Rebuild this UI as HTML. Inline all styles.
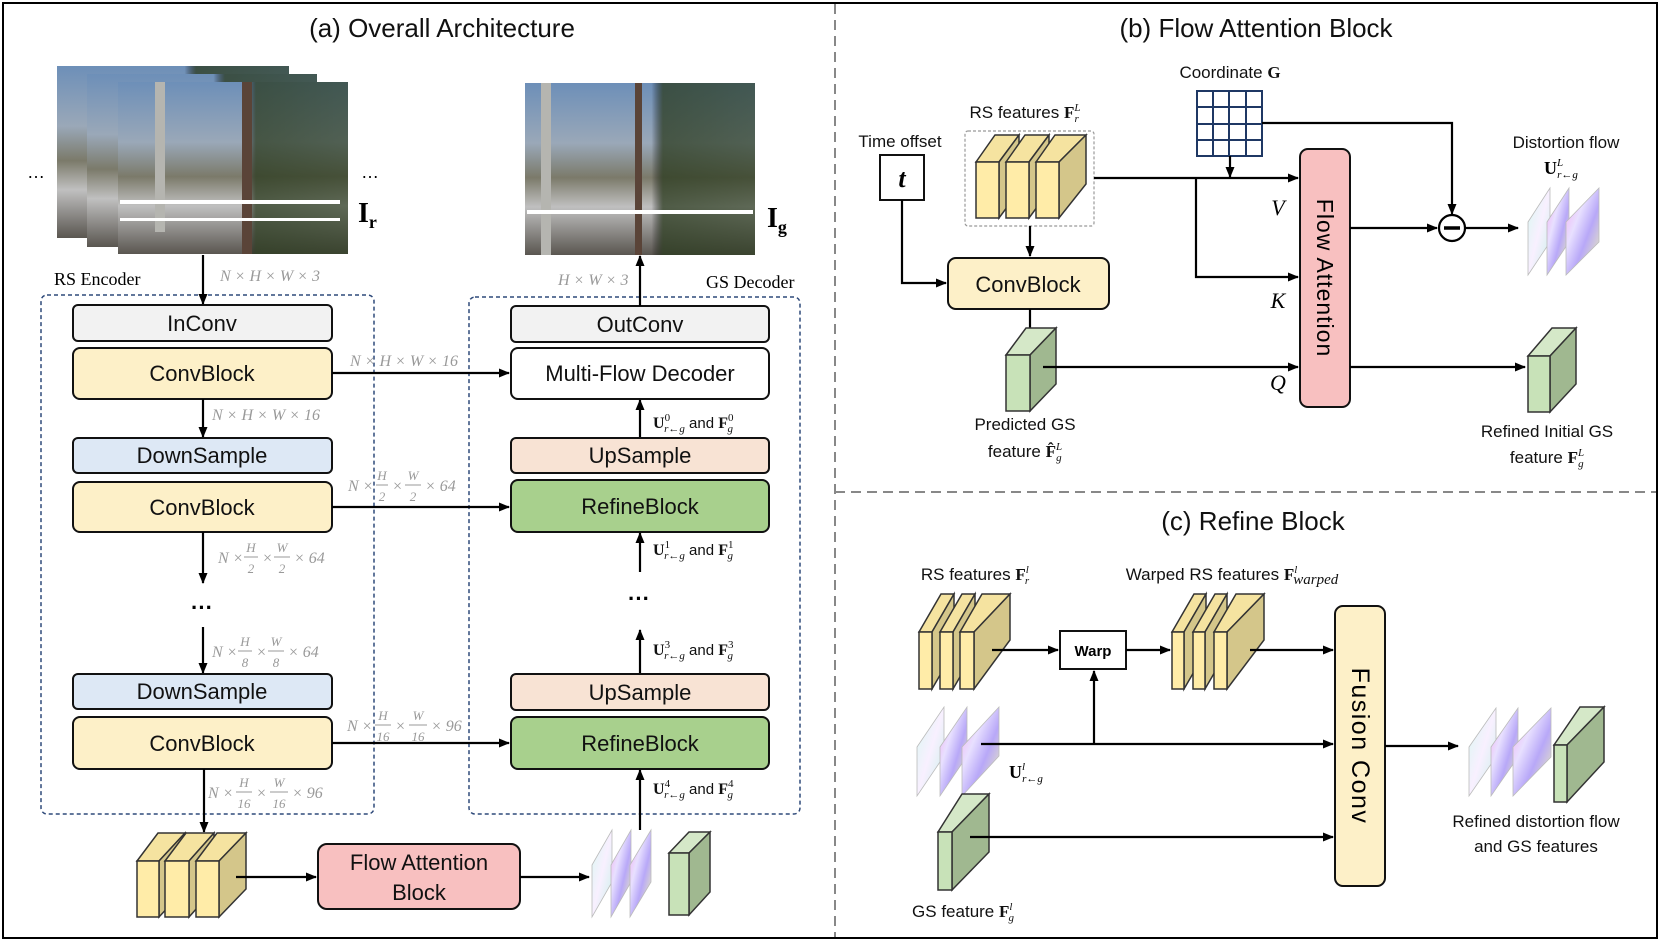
<!DOCTYPE html>
<html><head><meta charset="utf-8"><style>
html,body{margin:0;padding:0;background:#fff;}
svg{display:block;font-family:"Liberation Sans",sans-serif;}
.t{font-size:26px;fill:#111;text-anchor:middle;}
.bx{font-size:22px;fill:#111;text-anchor:middle;}
.lb{font-size:17px;fill:#111;text-anchor:middle;}
.dm{font-family:"Liberation Serif",serif;font-style:italic;font-size:16px;fill:#999;}
.dn{font-family:"Liberation Serif",serif;font-style:italic;font-size:13px;fill:#999;text-anchor:middle;}
.mt{font-family:"Liberation Serif",serif;font-size:16px;fill:#111;}
.ln{stroke:#000;stroke-width:2.2;fill:none;}
</style></head><body>
<svg width="1660" height="941" viewBox="0 0 1660 941" xmlns="http://www.w3.org/2000/svg">
<defs>
<marker id="ar" markerWidth="12" markerHeight="12" refX="10" refY="6" orient="auto" markerUnits="userSpaceOnUse"><path d="M0,1.5 L11,6 L0,10.5 z" fill="#000"/></marker>
<linearGradient id="fl" x1="0" y1="0" x2="1" y2="1"><stop offset="0" stop-color="#f4a8f0"/><stop offset="0.35" stop-color="#e8e0ff"/><stop offset="0.6" stop-color="#b8a8f8"/><stop offset="1" stop-color="#f4f8b0"/></linearGradient>
<linearGradient id="fl2" x1="0" y1="0" x2="1" y2="1"><stop offset="0" stop-color="#d8f8f0"/><stop offset="0.5" stop-color="#f8f0ff"/><stop offset="1" stop-color="#c8f0e8"/></linearGradient>
<linearGradient id="ph" x1="0" y1="0" x2="0" y2="1"><stop offset="0" stop-color="#6d8fb8"/><stop offset="0.35" stop-color="#9aa8b8"/><stop offset="0.55" stop-color="#7b7a6a"/><stop offset="0.72" stop-color="#c0c0c0"/><stop offset="1" stop-color="#5a5650"/></linearGradient>
<linearGradient id="ph2" x1="0" y1="0" x2="1" y2="0"><stop offset="0" stop-color="#000" stop-opacity="0"/><stop offset="0.55" stop-color="#000" stop-opacity="0"/><stop offset="0.6" stop-color="#2a3a1e" stop-opacity="0.75"/><stop offset="1" stop-color="#2a3a1e" stop-opacity="0.65"/></linearGradient>
</defs>
<rect x="3" y="3" width="1654" height="935" fill="none" stroke="#000" stroke-width="2"/>
<line x1="835" y1="4" x2="835" y2="937" stroke="#888" stroke-width="2" stroke-dasharray="10,6"/>
<line x1="835" y1="492" x2="1656" y2="492" stroke="#888" stroke-width="2" stroke-dasharray="10,6"/>
<text class="t" x="442" y="37">(a) Overall Architecture</text>
<text class="t" x="1256" y="37">(b) Flow Attention Block</text>
<text class="t" x="1253" y="530">(c) Refine Block</text>

<!-- images -->
<g>
<rect x="57" y="66" width="232" height="172" fill="url(#ph)"/><rect x="57" y="66" width="232" height="172" fill="url(#ph2)"/>
<rect x="87" y="74" width="230" height="173" fill="url(#ph)"/><rect x="87" y="74" width="230" height="173" fill="url(#ph2)"/>
<rect x="118" y="82" width="230" height="172" fill="url(#ph)"/><rect x="118" y="82" width="230" height="172" fill="url(#ph2)"/>
<rect x="155" y="82" width="10" height="150" fill="#b5b5b0"/><rect x="242" y="82" width="10" height="172" fill="#5a4438"/>
<rect x="120" y="200" width="220" height="4" fill="#fff"/><rect x="120" y="218" width="220" height="3" fill="#fff"/>
</g>
<text x="36" y="178" font-size="18" text-anchor="middle">…</text>
<text x="370" y="178" font-size="18" text-anchor="middle">…</text>
<text x="358" y="222" font-family="Liberation Serif" font-weight="bold" font-size="28">I<tspan font-size="18" dy="6">r</tspan></text>
<g>
<rect x="525" y="83" width="230" height="172" fill="url(#ph)"/><rect x="525" y="83" width="230" height="172" fill="url(#ph2)"/>
<rect x="541" y="83" width="10" height="172" fill="#b5b5b0"/><rect x="635" y="83" width="7" height="172" fill="#5a4438"/>
<rect x="527" y="210" width="226" height="4" fill="#fff"/>
</g>
<text x="767" y="227" font-family="Liberation Serif" font-weight="bold" font-size="28">I<tspan font-size="18" dy="6">g</tspan></text>

<!-- encoder / decoder frames -->
<rect x="41" y="295" width="333" height="519" rx="6" fill="none" stroke="#2f4a7a" stroke-width="1.5" stroke-dasharray="4,3"/>
<rect x="469" y="297" width="331" height="517" rx="6" fill="none" stroke="#2f4a7a" stroke-width="1.5" stroke-dasharray="4,3"/>
<text x="54" y="285" font-family="Liberation Serif" font-size="18">RS Encoder</text>
<text x="706" y="288" font-family="Liberation Serif" font-size="18">GS Decoder</text>
<text class="dm" x="220" y="281">N × H × W × 3</text>
<text class="dm" x="558" y="285">H × W × 3</text>

<line class="ln" x1="203" y1="255" x2="203" y2="304" marker-end="url(#ar)"/>
<rect x="73" y="305" width="259" height="36" rx="5" fill="#f2f2f2" stroke="#111" stroke-width="2"/><text class="bx" x="202" y="331">InConv</text>
<rect x="73" y="348" width="259" height="51" rx="7" fill="#fdf0c8" stroke="#111" stroke-width="2"/><text class="bx" x="202" y="381">ConvBlock</text>
<line class="ln" x1="203" y1="399" x2="203" y2="437" marker-end="url(#ar)"/>
<text class="dm" x="212" y="420">N × H × W × 16</text>
<rect x="73" y="438" width="259" height="35" rx="5" fill="#dde8f5" stroke="#111" stroke-width="2"/><text class="bx" x="202" y="463">DownSample</text>
<rect x="73" y="482" width="259" height="50" rx="7" fill="#fdf0c8" stroke="#111" stroke-width="2"/><text class="bx" x="202" y="515">ConvBlock</text>
<line class="ln" x1="203" y1="532" x2="203" y2="583" marker-end="url(#ar)"/>
<text x="202" y="615" font-size="22" text-anchor="middle" font-weight="bold">···</text>
<line class="ln" x1="203" y1="627" x2="203" y2="673" marker-end="url(#ar)"/>
<rect x="73" y="674" width="259" height="35" rx="5" fill="#dde8f5" stroke="#111" stroke-width="2"/><text class="bx" x="202" y="699">DownSample</text>
<rect x="73" y="717" width="259" height="52" rx="7" fill="#fdf0c8" stroke="#111" stroke-width="2"/><text class="bx" x="202" y="751">ConvBlock</text>
<line class="ln" x1="204" y1="769" x2="204" y2="832" marker-end="url(#ar)"/>

<!-- dims with fractions -->
<g class="dm">
<text x="218" y="563">N ×</text><text class="dn" x="251" y="552">H</text><line x1="244" y1="557" x2="258" y2="557" stroke="#999"/><text class="dn" x="251" y="573">2</text><text x="262" y="563">×</text><text class="dn" x="282" y="552">W</text><line x1="274" y1="557" x2="290" y2="557" stroke="#999"/><text class="dn" x="282" y="573">2</text><text x="294" y="563">× 64</text>
<text x="212" y="657">N ×</text><text class="dn" x="245" y="646">H</text><line x1="238" y1="651" x2="252" y2="651" stroke="#999"/><text class="dn" x="245" y="667">8</text><text x="256" y="657">×</text><text class="dn" x="276" y="646">W</text><line x1="268" y1="651" x2="284" y2="651" stroke="#999"/><text class="dn" x="276" y="667">8</text><text x="288" y="657">× 64</text>
<text x="208" y="798">N ×</text><text class="dn" x="244" y="787">H</text><line x1="236" y1="792" x2="252" y2="792" stroke="#999"/><text class="dn" x="244" y="808">16</text><text x="256" y="798">×</text><text class="dn" x="279" y="787">W</text><line x1="270" y1="792" x2="288" y2="792" stroke="#999"/><text class="dn" x="279" y="808">16</text><text x="292" y="798">× 96</text>
<text x="350" y="366">N × H × W × 16</text>
<text x="348" y="491">N ×</text><text class="dn" x="382" y="480">H</text><line x1="376" y1="485" x2="388" y2="485" stroke="#999"/><text class="dn" x="382" y="501">2</text><text x="392" y="491">×</text><text class="dn" x="413" y="480">W</text><line x1="405" y1="485" x2="421" y2="485" stroke="#999"/><text class="dn" x="413" y="501">2</text><text x="425" y="491">× 64</text>
<text x="347" y="731">N ×</text><text class="dn" x="383" y="720">H</text><line x1="375" y1="725" x2="391" y2="725" stroke="#999"/><text class="dn" x="383" y="741">16</text><text x="395" y="731">×</text><text class="dn" x="418" y="720">W</text><line x1="409" y1="725" x2="427" y2="725" stroke="#999"/><text class="dn" x="418" y="741">16</text><text x="431" y="731">× 96</text>
</g>

<!-- decoder -->
<rect x="511" y="306" width="258" height="36" rx="5" fill="#f2f2f2" stroke="#111" stroke-width="2"/><text class="bx" x="640" y="332">OutConv</text>
<line class="ln" x1="640" y1="306" x2="640" y2="256" marker-end="url(#ar)"/>
<rect x="511" y="348" width="258" height="51" rx="7" fill="#fff" stroke="#111" stroke-width="2"/><text class="bx" x="640" y="381">Multi-Flow Decoder</text>
<line class="ln" x1="332" y1="373" x2="509" y2="373" marker-end="url(#ar)"/>
<line class="ln" x1="640" y1="438" x2="640" y2="400" marker-end="url(#ar)"/>
<rect x="511" y="438" width="258" height="35" rx="5" fill="#f8e3d4" stroke="#111" stroke-width="2"/><text class="bx" x="640" y="463">UpSample</text>
<rect x="511" y="480" width="258" height="52" rx="7" fill="#a8d08d" stroke="#111" stroke-width="2"/><text class="bx" x="640" y="514">RefineBlock</text>
<line class="ln" x1="332" y1="507" x2="509" y2="507" marker-end="url(#ar)"/>
<line class="ln" x1="640" y1="572" x2="640" y2="533" marker-end="url(#ar)"/>
<text x="639" y="606" font-size="22" text-anchor="middle" font-weight="bold">···</text>
<line class="ln" x1="640" y1="674" x2="640" y2="630" marker-end="url(#ar)"/>
<rect x="511" y="674" width="258" height="36" rx="5" fill="#f8e3d4" stroke="#111" stroke-width="2"/><text class="bx" x="640" y="700">UpSample</text>
<rect x="511" y="717" width="258" height="52" rx="7" fill="#a8d08d" stroke="#111" stroke-width="2"/><text class="bx" x="640" y="751">RefineBlock</text>
<line class="ln" x1="332" y1="743" x2="509" y2="743" marker-end="url(#ar)"/>
<line class="ln" x1="640" y1="830" x2="640" y2="770" marker-end="url(#ar)"/>
<g class="mt">
<text x="653" y="428" font-weight="bold">U<tspan font-size="11" dy="-7" font-weight="normal">0</tspan><tspan font-size="11" dy="11" dx="-6" font-style="italic" font-weight="normal">r←g</tspan><tspan dy="-4" font-size="15" font-family="Liberation Sans" font-weight="normal"> and </tspan>F<tspan font-size="11" dy="-7" font-weight="normal">0</tspan><tspan font-size="11" dy="11" dx="-6" font-style="italic" font-weight="normal">g</tspan></text>
<text x="653" y="555" font-weight="bold">U<tspan font-size="11" dy="-7" font-weight="normal">1</tspan><tspan font-size="11" dy="11" dx="-6" font-style="italic" font-weight="normal">r←g</tspan><tspan dy="-4" font-size="15" font-family="Liberation Sans" font-weight="normal"> and </tspan>F<tspan font-size="11" dy="-7" font-weight="normal">1</tspan><tspan font-size="11" dy="11" dx="-6" font-style="italic" font-weight="normal">g</tspan></text>
<text x="653" y="655" font-weight="bold">U<tspan font-size="11" dy="-7" font-weight="normal">3</tspan><tspan font-size="11" dy="11" dx="-6" font-style="italic" font-weight="normal">r←g</tspan><tspan dy="-4" font-size="15" font-family="Liberation Sans" font-weight="normal"> and </tspan>F<tspan font-size="11" dy="-7" font-weight="normal">3</tspan><tspan font-size="11" dy="11" dx="-6" font-style="italic" font-weight="normal">g</tspan></text>
<text x="653" y="794" font-weight="bold">U<tspan font-size="11" dy="-7" font-weight="normal">4</tspan><tspan font-size="11" dy="11" dx="-6" font-style="italic" font-weight="normal">r←g</tspan><tspan dy="-4" font-size="15" font-family="Liberation Sans" font-weight="normal"> and </tspan>F<tspan font-size="11" dy="-7" font-weight="normal">4</tspan><tspan font-size="11" dy="11" dx="-6" font-style="italic" font-weight="normal">g</tspan></text>
</g>

<!-- bottom row (a) -->
<g stroke="#333" stroke-width="1.5">
<polygon points="137,861 158,833 185,833 159,861" fill="#f5e3a0"/><polygon points="159,861 185,833 185,889 159,917" fill="#d4c68a"/><rect x="137" y="861" width="22" height="56" fill="#ffeca8"/>
<polygon points="165,861 186,833 214,833 189,861" fill="#f5e3a0"/><polygon points="189,861 214,833 214,889 189,917" fill="#d4c68a"/><rect x="165" y="861" width="24" height="56" fill="#ffeca8"/>
<polygon points="196,861 217,833 246,833 219,861" fill="#f5e3a0"/><polygon points="219,861 246,833 246,889 219,917" fill="#d4c68a"/><rect x="196" y="861" width="23" height="56" fill="#ffeca8"/>
</g>
<line class="ln" x1="236" y1="877" x2="316" y2="877" marker-end="url(#ar)"/>
<rect x="318" y="844" width="202" height="65" rx="9" fill="#f8c0c0" stroke="#111" stroke-width="2"/>
<text class="bx" x="419" y="870">Flow Attention</text><text class="bx" x="419" y="900">Block</text>
<line class="ln" x1="520" y1="877" x2="589" y2="877" marker-end="url(#ar)"/>
<g stroke="#bbb" stroke-width="0.8">
<polygon points="592,865 612,830 612,882 592,917" fill="url(#fl2)"/>
<polygon points="611,865 631,830 631,882 611,917" fill="url(#fl)"/>
<polygon points="630,865 651,830 651,882 630,917" fill="url(#fl)"/>
</g>
<g stroke="#333" stroke-width="1.5">
<polygon points="669,853 689,832 710,832 689,853" fill="#d5e8c8"/><polygon points="689,853 710,832 710,892 689,915" fill="#a0b890"/><rect x="669" y="853" width="20" height="62" fill="#c8e2b8"/>
</g>

<!-- panel b -->
<text class="lb" x="1230" y="78">Coordinate <tspan font-family="Liberation Serif" font-weight="bold">G</tspan></text>
<g stroke="#1f3864" stroke-width="2" fill="none">
<rect x="1197" y="91" width="65" height="65"/>
<line x1="1213" y1="91" x2="1213" y2="156"/><line x1="1229" y1="91" x2="1229" y2="156"/><line x1="1246" y1="91" x2="1246" y2="156"/>
<line x1="1197" y1="107" x2="1262" y2="107"/><line x1="1197" y1="124" x2="1262" y2="124"/><line x1="1197" y1="140" x2="1262" y2="140"/>
</g>
<text class="lb" x="1025" y="118">RS features <tspan font-family="Liberation Serif" font-weight="bold">F</tspan><tspan font-size="11" dy="-7" font-style="italic" font-family="Liberation Serif">L</tspan><tspan font-size="11" dy="11" dx="-6" font-style="italic" font-family="Liberation Serif">r</tspan></text>
<text class="lb" x="900" y="147">Time offset</text>
<rect x="880" y="155" width="44" height="45" fill="#fff" stroke="#111" stroke-width="2"/>
<text x="902" y="187" font-family="Liberation Serif" font-style="italic" font-weight="bold" font-size="26" text-anchor="middle">t</text>
<rect x="965" y="131" width="129" height="95" rx="3" fill="none" stroke="#999" stroke-width="1.2" stroke-dasharray="3,2"/>
<g stroke="#333" stroke-width="1.5">
<polygon points="976,162 995,135 1019,135 999,162" fill="#f5e3a0"/><polygon points="999,162 1019,135 1019,191 999,218" fill="#d4c68a"/><rect x="976" y="162" width="23" height="56" fill="#ffeca8"/>
<polygon points="1006,162 1025,135 1049,135 1029,162" fill="#f5e3a0"/><polygon points="1029,162 1049,135 1049,191 1029,218" fill="#d4c68a"/><rect x="1006" y="162" width="23" height="56" fill="#ffeca8"/>
<polygon points="1036,162 1055,135 1086,135 1059,162" fill="#f5e3a0"/><polygon points="1059,162 1086,135 1086,184 1059,218" fill="#d4c68a"/><rect x="1036" y="162" width="23" height="56" fill="#ffeca8"/>
</g>
<line class="ln" x1="1030" y1="226" x2="1030" y2="256" marker-end="url(#ar)"/>
<rect x="948" y="258" width="161" height="51" rx="8" fill="#fdf0c8" stroke="#111" stroke-width="2"/>
<text class="bx" x="1028" y="292">ConvBlock</text>
<polyline class="ln" points="902,200 902,283 946,283" marker-end="url(#ar)"/>
<line class="ln" x1="1030" y1="309" x2="1030" y2="342" marker-end="url(#ar)"/>
<g stroke="#333" stroke-width="1.5">
<polygon points="1006,355 1026,328 1056,328 1030,355" fill="#d5e8c8"/><polygon points="1030,355 1056,328 1056,384 1030,411" fill="#a0b890"/><rect x="1006" y="355" width="24" height="56" fill="#c8e2b8"/>
</g>
<text class="lb" x="1025" y="430">Predicted GS</text>
<text class="lb" x="1025" y="457">feature <tspan font-family="Liberation Serif" font-weight="bold">F̂</tspan><tspan font-size="11" dy="-7" font-style="italic" font-family="Liberation Serif">L</tspan><tspan font-size="11" dy="11" dx="-6" font-style="italic" font-family="Liberation Serif">g</tspan></text>
<rect x="1300" y="149" width="50" height="258" rx="8" fill="#f8c0c0" stroke="#111" stroke-width="2"/>
<text x="1317" y="278" font-size="23" text-anchor="middle" transform="rotate(90 1317 278)" letter-spacing="1">Flow Attention</text>
<line class="ln" x1="1094" y1="178" x2="1298" y2="178" marker-end="url(#ar)"/>
<polyline class="ln" points="1196,178 1196,277 1298,277" marker-end="url(#ar)"/>
<line class="ln" x1="1230" y1="156" x2="1230" y2="177" marker-end="url(#ar)"/>
<polyline class="ln" points="1262,123 1452,123 1452,214" marker-end="url(#ar)"/>
<line class="ln" x1="1043" y1="367" x2="1298" y2="367" marker-end="url(#ar)"/>
<text x="1278" y="215" font-family="Liberation Serif" font-style="italic" font-size="22" text-anchor="middle">V</text>
<text x="1278" y="308" font-family="Liberation Serif" font-style="italic" font-size="22" text-anchor="middle">K</text>
<text x="1278" y="390" font-family="Liberation Serif" font-style="italic" font-size="22" text-anchor="middle">Q</text>
<line class="ln" x1="1350" y1="228" x2="1437" y2="228" marker-end="url(#ar)"/>
<circle cx="1452" cy="228" r="13" fill="#fff" stroke="#000" stroke-width="2.2"/><line x1="1444" y1="228" x2="1460" y2="228" stroke="#000" stroke-width="3.5"/>
<line class="ln" x1="1465" y1="228" x2="1518" y2="228" marker-end="url(#ar)"/>
<g stroke="#bbb" stroke-width="0.8">
<polygon points="1528,222 1550,188 1550,242 1528,275" fill="url(#fl2)"/>
<polygon points="1547,222 1569,188 1569,242 1547,275" fill="url(#fl)"/>
<polygon points="1566,222 1599,188 1599,242 1566,275" fill="url(#fl)"/>
</g>
<text class="lb" x="1566" y="148">Distortion flow</text>
<text x="1544" y="174" font-family="Liberation Serif" font-weight="bold" font-size="18">U<tspan font-size="11" dy="-8" font-style="italic" font-weight="normal">L</tspan><tspan font-size="11" dy="12" dx="-6" font-style="italic" font-weight="normal">r←g</tspan></text>
<line class="ln" x1="1350" y1="367" x2="1525" y2="367" marker-end="url(#ar)"/>
<g stroke="#333" stroke-width="1.5">
<polygon points="1528,356 1552,328 1576,328 1550,356" fill="#d5e8c8"/><polygon points="1550,356 1576,328 1576,384 1550,412" fill="#a0b890"/><rect x="1528" y="356" width="22" height="56" fill="#c8e2b8"/>
</g>
<text class="lb" x="1547" y="437">Refined Initial GS</text>
<text class="lb" x="1547" y="463">feature <tspan font-family="Liberation Serif" font-weight="bold">F</tspan><tspan font-size="11" dy="-7" font-style="italic" font-family="Liberation Serif">L</tspan><tspan font-size="11" dy="11" dx="-6" font-style="italic" font-family="Liberation Serif">g</tspan></text>

<!-- panel c -->
<text class="lb" x="975" y="580">RS features <tspan font-family="Liberation Serif" font-weight="bold">F</tspan><tspan font-size="11" dy="-7" font-style="italic" font-family="Liberation Serif">l</tspan><tspan font-size="11" dy="11" dx="-4" font-style="italic" font-family="Liberation Serif">r</tspan></text>
<text class="lb" x="1232" y="580">Warped RS features <tspan font-family="Liberation Serif" font-weight="bold">F</tspan><tspan font-size="11" dy="-7" font-style="italic" font-family="Liberation Serif">l</tspan><tspan font-size="15" dy="11" dx="-4" font-style="italic" font-family="Liberation Serif">warped</tspan></text>
<g stroke="#333" stroke-width="1.5">
<polygon points="919,632 941,594 954,594 932,632" fill="#f5e3a0"/><polygon points="932,632 954,594 954,651 932,689" fill="#d4c68a"/><rect x="919" y="632" width="13" height="57" fill="#ffeca8"/>
<polygon points="940,632 962,594 975,594 953,632" fill="#f5e3a0"/><polygon points="953,632 975,594 975,651 953,689" fill="#d4c68a"/><rect x="940" y="632" width="13" height="57" fill="#ffeca8"/>
<polygon points="960,632 982,594 1010,594 974,632" fill="#f5e3a0"/><polygon points="974,632 1010,594 1010,640 974,689" fill="#d4c68a"/><rect x="960" y="632" width="14" height="57" fill="#ffeca8"/>
<polygon points="1172,632 1194,594 1206,594 1184,632" fill="#f5e3a0"/><polygon points="1184,632 1206,594 1206,651 1184,689" fill="#d4c68a"/><rect x="1172" y="632" width="12" height="57" fill="#ffeca8"/>
<polygon points="1193,632 1215,594 1227,594 1205,632" fill="#f5e3a0"/><polygon points="1205,632 1227,594 1227,651 1205,689" fill="#d4c68a"/><rect x="1193" y="632" width="12" height="57" fill="#ffeca8"/>
<polygon points="1214,632 1236,594 1264,594 1227,632" fill="#f5e3a0"/><polygon points="1227,632 1264,594 1264,640 1227,689" fill="#d4c68a"/><rect x="1214" y="632" width="13" height="57" fill="#ffeca8"/>
</g>
<line class="ln" x1="992" y1="650" x2="1058" y2="650" marker-end="url(#ar)"/>
<rect x="1060" y="631" width="66" height="38" fill="#fff" stroke="#111" stroke-width="2"/>
<text x="1093" y="656" font-size="15" font-weight="bold" text-anchor="middle">Warp</text>
<line class="ln" x1="1126" y1="650" x2="1170" y2="650" marker-end="url(#ar)"/>
<line class="ln" x1="1250" y1="650" x2="1333" y2="650" marker-end="url(#ar)"/>
<rect x="1335" y="606" width="50" height="280" rx="8" fill="#fdf0c8" stroke="#111" stroke-width="2"/>
<text x="1352" y="746" font-size="25" text-anchor="middle" transform="rotate(90 1352 746)" letter-spacing="1.5">Fusion Conv</text>
<g stroke="#bbb" stroke-width="0.8">
<polygon points="917,747 944,707 944,756 917,796" fill="url(#fl2)"/>
<polygon points="940,747 967,707 967,756 940,796" fill="url(#fl)"/>
<polygon points="962,747 999,707 999,756 962,796" fill="url(#fl)"/>
</g>
<line class="ln" x1="981" y1="744" x2="1333" y2="744" marker-end="url(#ar)"/>
<line class="ln" x1="1094" y1="744" x2="1094" y2="671" marker-end="url(#ar)"/>
<text x="1009" y="778" font-family="Liberation Serif" font-weight="bold" font-size="18">U<tspan font-size="11" dy="-8" font-style="italic" font-weight="normal">l</tspan><tspan font-size="11" dy="12" dx="-3" font-style="italic" font-weight="normal">r←g</tspan></text>
<g stroke="#333" stroke-width="1.5">
<polygon points="938,832 962,794 989,794 952,832" fill="#d5e8c8"/><polygon points="952,832 989,794 989,852 952,890" fill="#a0b890"/><rect x="938" y="832" width="14" height="58" fill="#c8e2b8"/>
</g>
<line class="ln" x1="970" y1="837" x2="1333" y2="837" marker-end="url(#ar)"/>
<text class="lb" x="963" y="917">GS feature <tspan font-family="Liberation Serif" font-weight="bold">F</tspan><tspan font-size="11" dy="-7" font-style="italic" font-family="Liberation Serif">l</tspan><tspan font-size="11" dy="11" dx="-4" font-style="italic" font-family="Liberation Serif">g</tspan></text>
<line class="ln" x1="1385" y1="746" x2="1458" y2="746" marker-end="url(#ar)"/>
<g stroke="#bbb" stroke-width="0.8">
<polygon points="1469,747 1496,708 1496,757 1469,796" fill="url(#fl2)"/>
<polygon points="1491,747 1518,708 1518,757 1491,796" fill="url(#fl)"/>
<polygon points="1513,747 1551,708 1551,757 1513,796" fill="url(#fl)"/>
</g>
<g stroke="#333" stroke-width="1.5">
<polygon points="1554,745 1580,707 1604,707 1567,745" fill="#d5e8c8"/><polygon points="1567,745 1604,707 1604,762 1567,802" fill="#a0b890"/><rect x="1554" y="745" width="13" height="57" fill="#c8e2b8"/>
</g>
<text class="lb" x="1536" y="827">Refined distortion flow</text>
<text class="lb" x="1536" y="852">and GS features</text>
</svg>
</body></html>
